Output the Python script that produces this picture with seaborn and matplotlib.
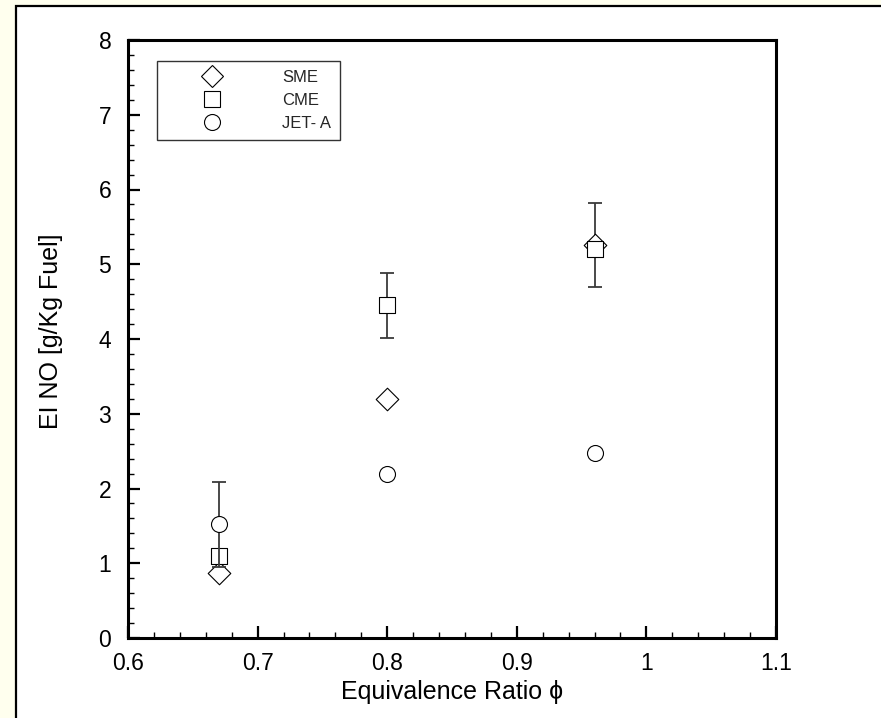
import numpy as np
import pandas as pd
import matplotlib
matplotlib.use("Agg")
import matplotlib.pyplot as plt
from matplotlib.patches import Rectangle
from matplotlib.lines import Line2D
from matplotlib.ticker import MultipleLocator
import seaborn as sns

# Equivalence ratio and NO emission index per fuel
phi = [0.67, 0.80, 0.96]
sme = [0.87, 3.20, 5.26]
cme = [1.10, 4.45, 5.20]
jet_a = [1.52, 2.19, 2.48]

# Error half-widths (None = no bar at that point)
sme_err = [None, None, 0.56]
cme_err = [None, 0.43, None]
jet_err = [0.57, None, None]

fuels = ["SME", "CME", "JET- A"]
fuel_values = [sme, cme, jet_a]
fuel_errors = [sme_err, cme_err, jet_err]
fuel_markers = ["D", "s", "o"]

sns.set_style("white")
plt.rcParams["font.family"] = ["Liberation Sans", "DejaVu Sans"]

fig = plt.figure(figsize=(8.81, 7.18), dpi=100)
fig.patch.set_facecolor("#FFFFEE")

# white page with a black frame on its left and top sides
frame = Rectangle((16 / 881, -0.2), 1.5, 1.2 - 6 / 718, transform=fig.transFigure,
                  facecolor="white", edgecolor="black", linewidth=1.6, zorder=-10)
fig.patches.append(frame)

ax = fig.add_axes([128 / 881, 80 / 718, 648 / 881, 598 / 718])
ax.set_facecolor("white")

ms = 11.5
z = 2
for name, vals, errs, mk in zip(fuels, fuel_values, fuel_errors, fuel_markers):
    df = pd.DataFrame({"phi": phi, "ei": vals})
    ex = [p for p, e in zip(phi, errs) if e is not None]
    ey = [v for v, e in zip(vals, errs) if e is not None]
    ee = [e for e in errs if e is not None]
    if ex:
        ax.errorbar(ex, ey, yerr=ee, fmt="none", ecolor="#3a3a3a", elinewidth=1.3,
                    capsize=4.8, capthick=1.3, zorder=z)
    sns.scatterplot(data=df, x="phi", y="ei", marker=mk, s=ms ** 2, color="white",
                    edgecolor="black", linewidth=0.8, ax=ax, legend=False, zorder=z + 1)
    z += 2

ax.set_xlim(0.6, 1.1)
ax.set_ylim(0, 8)
ax.xaxis.set_minor_locator(MultipleLocator(0.02))
ax.yaxis.set_major_locator(MultipleLocator(1))
ax.yaxis.set_minor_locator(MultipleLocator(0.2))
ax.set_xticks([0.6, 0.7, 0.8, 0.9, 1.0, 1.1])
ax.set_xticklabels(["0.6", "0.7", "0.8", "0.9", "1", "1.1"])

ax.tick_params(which="both", direction="in", bottom=True, left=True, top=False, right=False,
               color="black", labelsize=16.5, labelcolor="black")
ax.tick_params(which="major", length=8.6, width=1.6)
ax.tick_params(which="minor", length=4.3, width=1)
ax.tick_params(axis="x", which="major", pad=10)
ax.tick_params(axis="y", which="major", pad=12)

for sp in ax.spines.values():
    sp.set_visible(True)
    sp.set_color("black")
    sp.set_linewidth(2.2)

ax.set_xlabel("Equivalence Ratio \u03d5", fontsize=18, labelpad=4, color="black")
ax.set_ylabel("EI NO [g/Kg Fuel]", fontsize=18, color="black")
ax.yaxis.set_label_coords(-0.1, 0.513)

handles = [Line2D([], [], linestyle="none", marker=mk, markersize=ms,
                  markerfacecolor="white", markeredgecolor="black", markeredgewidth=0.8)
           for mk in fuel_markers]
leg = ax.legend(handles, fuels, loc="upper left", bbox_to_anchor=(0.045, 0.965),
                borderaxespad=0, frameon=True, fancybox=False, edgecolor="black",
                fontsize=12, handlelength=5.5, handletextpad=1.44, borderpad=0.55,
                labelspacing=0.47)
leg.get_frame().set_linewidth(1.0)

fig.savefig("out.png", dpi=100, facecolor=fig.get_facecolor())
